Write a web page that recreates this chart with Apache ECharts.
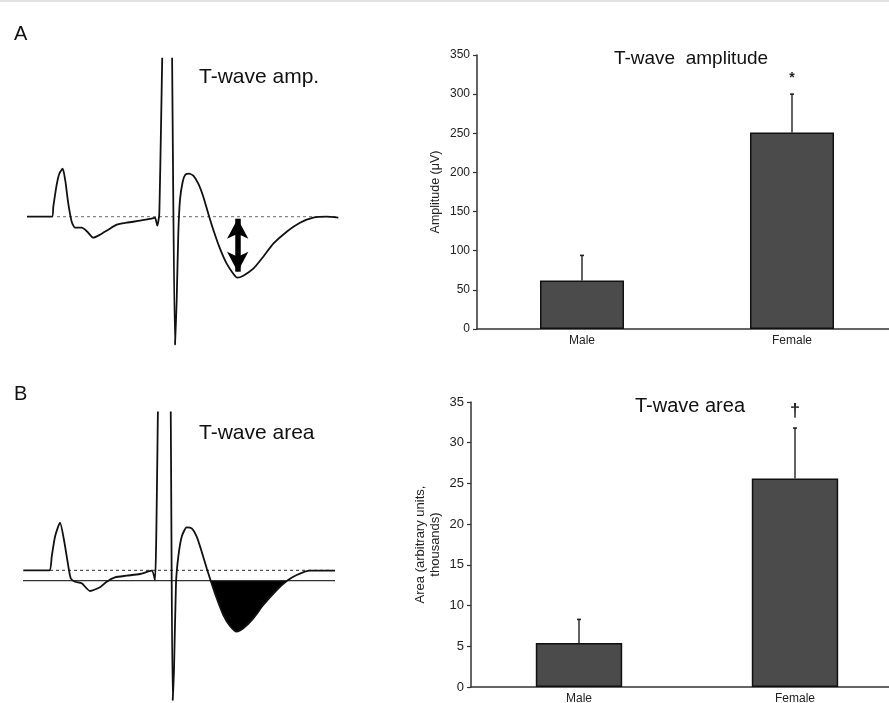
<!DOCTYPE html>
<html>
<head>
<meta charset="utf-8">
<script src="https://cdn.jsdelivr.net/npm/echarts@6/dist/echarts.min.js"></script>
<style>
  html, body { margin: 0; padding: 0; background: #fff; }
  #main { width: 889px; height: 703px; }
</style>
</head>
<body>
<div id="main"></div>
<script>
  // groups on the bar charts
  var groups = ['Male', 'Female'];
  // T-wave amplitude (uV): mean and SEM
  var ampMean = [62, 251];
  var ampSem = [32, 49];
  var ampMarks = ['', '*'];
  var ampTicks = [0, 350, 50];
  // T-wave area (arbitrary units, thousands): mean and SEM
  var areaMean = [5.4, 25.6];
  var areaSem = [2.9, 6.2];
  var areaMarks = ['', '\u2020'];
  var areaTicks = [0, 35, 5];

  // example ECG traces: [time, voltage] (arbitrary units, baseline = 0)
  var traceA = [
    [27, 0], [52, 0], [53.3, 10], [56.7, 32], [59.3, 43], [62.7, 48], [65.3, 36], [68.3, 13],
    [71.7, -5], [75, -11], [81.7, -11], [87.3, -15], [93.3, -21], [100, -18], [108.3, -13],
    [116.7, -8], [126.7, -6], [140, -4], [151.7, -2], [155, -1], [157.3, -9], [159.3, 3],
    [166, 300], [170, 300], [175, -128], [176.7, -83], [178.3, -17], [180, 17], [182.7, 35],
    [185.3, 42], [189, 43], [193.3, 41], [198.3, 33], [203.3, 20], [208.3, 3], [213.3, -13],
    [220, -32], [226.7, -47], [233.3, -57], [237.3, -61], [243.3, -59], [253.3, -52],
    [263.3, -40], [273.3, -27], [286.7, -15], [300, -6], [313.3, -1], [326.7, 0], [338.3, -1]
  ];
  var traceB = [
    [23.3, 0], [49.3, 0], [51.7, 13.6], [55, 33.6], [60, 47.6], [64, 30.3], [67.3, 10.3],
    [70.7, -8], [75, -11.4], [81.7, -13], [90, -20.7], [100, -17], [106.7, -11.4], [115, -7],
    [126.7, -5.4], [140, -3.7], [151.7, -0.4], [155, -9.7], [161.1, 300], [168.7, 300],
    [172.7, -130], [174, -99.7], [176, -13], [178.3, 13.6], [181.7, 33.6], [186.7, 43],
    [191.7, 42], [196.7, 33.6], [201.7, 18.6], [206.7, 2], [210.7, -10.4], [216.7, -28],
    [223.3, -44.7], [230, -55.7], [236.7, -61.4], [243.3, -58], [253.3, -48], [263.3, -34.7],
    [276.7, -19.7], [286.7, -10.7], [296.7, -4.7], [310, -0.4], [335, -0.4]
  ];
  var baseA = [[57, 0], [338, 0]];
  var baseB = [[50, 0], [333, 0]];
  var levelB = -10.4;
  var levelBSpan = [23, 335];
  var arrowA = [[237.7, -2], [237.7, -55]];

  var font = "'Liberation Sans', Arial, sans-serif";
  var ink = '#222';

  function errRender(marks, markSize, markGap) {
    return function (params, api) {
      var i = api.value(0);
      var p0 = api.coord([i, api.value(1)]);
      var p1 = api.coord([i, api.value(1) + api.value(2)]);
      var kids = [
        { type: 'line', shape: { x1: p0[0], y1: p0[1], x2: p1[0], y2: p1[1] },
          style: { stroke: ink, lineWidth: 1.4 } },
        { type: 'line', shape: { x1: p1[0] - 2, y1: p1[1], x2: p1[0] + 2, y2: p1[1] },
          style: { stroke: ink, lineWidth: 1.6 } }
      ];
      if (marks[i]) {
        kids.push({ type: 'text', x: p1[0], y: p1[1] - markGap,
          style: { text: marks[i], fill: ink, font: 'bold ' + markSize + 'px ' + font,
            align: 'center', verticalAlign: 'middle' } });
      }
      return { type: 'group', children: kids };
    };
  }

  function barAxisY(ticks, name, nameGap, labelSize, nameSize) {
    return {
      type: 'value', min: ticks[0], max: ticks[1], interval: ticks[2],
      name: name, nameLocation: 'middle', nameGap: nameGap,
      nameTextStyle: { color: ink, fontSize: nameSize, fontFamily: font, lineHeight: 15 },
      axisLine: { show: true, lineStyle: { color: '#333', width: 1.5 } },
      axisTick: { show: true, length: 4, lineStyle: { color: '#333', width: 1.2 } },
      axisLabel: { color: ink, fontSize: labelSize, fontFamily: font, margin: 7 },
      splitLine: { show: false }
    };
  }
  function barAxisX(idx) {
    return {
      type: 'category', gridIndex: idx, data: groups,
      axisLine: { lineStyle: { color: '#333', width: 1.5 } },
      axisTick: { length: 3, lineStyle: { color: '#333' } },
      axisLabel: { color: ink, fontSize: 12, fontFamily: font, margin: 6 }
    };
  }
  function ecgAxisX(idx) { return { type: 'value', gridIndex: idx, min: 0, max: 360, show: false }; }
  function ecgAxisY(idx) { return { type: 'value', gridIndex: idx, min: -133, max: 158, show: false }; }

  var chart = echarts.init(document.getElementById('main'));
  chart.setOption({
    animation: false,
    backgroundColor: '#fff',
    graphic: [
      { type: 'rect', shape: { x: 0, y: 0, width: 889, height: 2 }, style: { fill: '#e2e2e2' } }
    ],
    title: [
      { text: 'A', left: 9, top: 19, textStyle: { fontSize: 20, fontWeight: 'normal', color: '#111', fontFamily: font } },
      { text: 'B', left: 9, top: 379, textStyle: { fontSize: 20, fontWeight: 'normal', color: '#111', fontFamily: font } },
      { text: 'T-wave amp.', left: 194, top: 62, textStyle: { fontSize: 21, fontWeight: 'normal', color: '#111', fontFamily: font } },
      { text: 'T-wave area', left: 194, top: 418, textStyle: { fontSize: 21, fontWeight: 'normal', color: '#111', fontFamily: font } },
      { text: 'T-wave  amplitude', left: 686, top: 44, textAlign: 'center', textStyle: { fontSize: 19, fontWeight: 'normal', color: '#111', fontFamily: font } },
      { text: 'T-wave area', left: 685, top: 391, textAlign: 'center', textStyle: { fontSize: 20, fontWeight: 'normal', color: '#111', fontFamily: font } }
    ],
    grid: [
      { left: 0, top: 58.7, width: 360, height: 291, outerBoundsMode: 'none' },
      { left: 0, top: 412.3, width: 360, height: 291, outerBoundsMode: 'none' },
      { left: 477, top: 55, width: 420, height: 274, outerBoundsMode: 'none' },
      { left: 471, top: 402, width: 432, height: 285, outerBoundsMode: 'none' }
    ],
    xAxis: [ecgAxisX(0), ecgAxisX(1), barAxisX(2), barAxisX(3)],
    yAxis: [
      ecgAxisY(0), ecgAxisY(1),
      Object.assign(barAxisY(ampTicks, 'Amplitude (\u03bcV)', 34, 12, 12.5), { gridIndex: 2 }),
      Object.assign(barAxisY(areaTicks, 'Area (arbitrary units,\nthousands)', 28, 13, 13), { gridIndex: 3 })
    ],
    series: [
      // panel A trace
      { type: 'line', xAxisIndex: 0, yAxisIndex: 0, data: baseA, showSymbol: false,
        lineStyle: { color: '#888', width: 1.2, type: [3, 3] } },
      { type: 'line', xAxisIndex: 0, yAxisIndex: 0, data: traceA, showSymbol: false, smooth: 0.2,
        clip: true, lineStyle: { color: '#111', width: 1.8 },
        markLine: {
          silent: true, symbol: ['arrow', 'arrow'], symbolSize: [16, 20],
          lineStyle: { color: '#000', width: 5.5, type: 'solid' }, label: { show: false },
          data: [[{ coord: arrowA[0] }, { coord: arrowA[1] }]]
        } },
      // panel B trace with shaded T-wave area
      { type: 'line', xAxisIndex: 1, yAxisIndex: 1, showSymbol: false, smooth: 0.2,
        data: traceB.filter(function (p) { return p[0] >= 210.7 && p[0] <= 286.7; }),
        lineStyle: { width: 0 }, areaStyle: { color: '#000', opacity: 1, origin: levelB } },
      { type: 'line', xAxisIndex: 1, yAxisIndex: 1, data: baseB, showSymbol: false,
        lineStyle: { color: '#555', width: 1.2, type: [3, 3] } },
      { type: 'line', xAxisIndex: 1, yAxisIndex: 1, showSymbol: false,
        data: [[levelBSpan[0], levelB], [levelBSpan[1], levelB]],
        lineStyle: { color: '#333', width: 1.2 } },
      { type: 'line', xAxisIndex: 1, yAxisIndex: 1, data: traceB, showSymbol: false, smooth: 0.2,
        clip: true, lineStyle: { color: '#111', width: 1.8 } },
      // amplitude bars
      { type: 'bar', xAxisIndex: 2, yAxisIndex: 2, data: ampMean, barWidth: '40%',
        itemStyle: { color: '#4b4b4b', borderColor: '#111', borderWidth: 1.5 } },
      { type: 'custom', xAxisIndex: 2, yAxisIndex: 2, z: 5,
        data: groups.map(function (g, i) { return [i, ampMean[i], ampSem[i]]; }),
        renderItem: errRender(ampMarks, 14, 16) },
      // area bars
      { type: 'bar', xAxisIndex: 3, yAxisIndex: 3, data: areaMean, barWidth: '40%',
        itemStyle: { color: '#4b4b4b', borderColor: '#111', borderWidth: 1.5 } },
      { type: 'custom', xAxisIndex: 3, yAxisIndex: 3, z: 5,
        data: groups.map(function (g, i) { return [i, areaMean[i], areaSem[i]]; }),
        renderItem: errRender(areaMarks, 18, 17) }
    ]
  });
</script>
</body>
</html>
